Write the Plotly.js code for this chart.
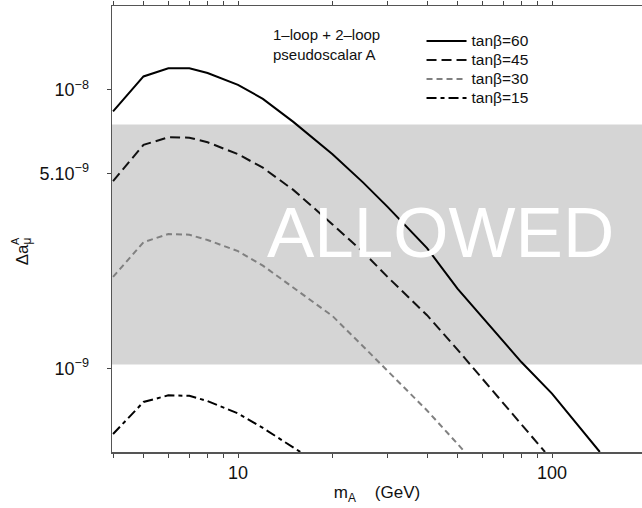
<!DOCTYPE html>
<html>
<head>
<meta charset="utf-8">
<script src="https://cdn.plot.ly/plotly-3.0.1.min.js"></script>
<style>html,body{margin:0;padding:0;background:#fff;}#chart{width:642px;height:508px;}</style>
</head>
<body>
<div id="chart"></div>
<script>
// m_A values (GeV) and Δa_μ^A values
const m60 = [4, 5, 6, 7, 8, 9, 10, 12, 15, 20, 25, 30, 40, 50, 60, 70, 80, 100, 120, 142];
const a60 = [8.36e-9, 1.117e-8, 1.194e-8, 1.194e-8, 1.149e-8, 1.093e-8, 1.042e-8, 9.28e-9, 7.67e-9, 5.87e-9, 4.65e-9, 3.79e-9, 2.70e-9, 1.93e-9, 1.52e-9, 1.24e-9, 1.05e-9, 8.1e-10, 6.3e-10, 5.0e-10];

const m45 = [4, 5, 6, 7, 8, 9, 10, 12, 15, 20, 25, 30, 40, 50, 60, 70, 80, 95];
const a45 = [4.70e-9, 6.34e-9, 6.75e-9, 6.73e-9, 6.48e-9, 6.17e-9, 5.87e-9, 5.25e-9, 4.37e-9, 3.285e-9, 2.617e-9, 2.123e-9, 1.55e-9, 1.166e-9, 9.17e-10, 7.49e-10, 6.28e-10, 5.0e-10];

const m30 = [4, 5, 6, 7, 8, 9, 10, 12, 15, 20, 25, 30, 40, 52.8];
const a30 = [2.127e-9, 2.834e-9, 3.034e-9, 3.016e-9, 2.886e-9, 2.758e-9, 2.633e-9, 2.336e-9, 1.947e-9, 1.539e-9, 1.199e-9, 9.75e-10, 7.05e-10, 5.0e-10];

const m15 = [4, 5, 6, 7, 8, 9, 10, 12, 15, 15.8];
const a15 = [5.80e-10, 7.56e-10, 7.99e-10, 7.96e-10, 7.62e-10, 7.22e-10, 6.88e-10, 6.10e-10, 5.20e-10, 5.0e-10];

const seriesNames = ["tanβ=60", "tanβ=45", "tanβ=30", "tanβ=15"];

// allowed band
const bandLow = 1.03e-9;
const bandHigh = 7.5e-9;

// axis ticks
const xTickVals = [4, 5, 6, 7, 8, 9, 10, 20, 30, 40, 50, 60, 70, 80, 90, 100, 200];
const xTickText = ["", "", "", "", "", "", "10", "", "", "", "", "", "", "", "", "100", ""];
const yTickVals = [1e-9, 5e-9, 1e-8];
const yTickText = ["10<sup>−9</sup>", "5.10<sup>−9</sup>", "10<sup>−8</sup>"];

const FONT = "Liberation Sans, Arial, Helvetica, sans-serif";
const legendName = n => "<span style='font-size:15.5px'>" + n + "</span>";

const traces = [
  {x: m60, y: a60, name: legendName(seriesNames[0]), mode: "lines", line: {color: "#000", width: 2, dash: "solid"}},
  {x: m45, y: a45, name: legendName(seriesNames[1]), mode: "lines", line: {color: "#111", width: 2, dash: "10px,5px"}},
  {x: m30, y: a30, name: legendName(seriesNames[2]), mode: "lines", line: {color: "#808080", width: 2, dash: "6px,4px"}},
  {x: m15, y: a15, name: legendName(seriesNames[3]), mode: "lines", line: {color: "#000", width: 2, dash: "10px,4px,4px,4px"}}
];

const layout = {
  width: 642, height: 508,
  margin: {l: 112, r: 0, t: 6, b: 56},
  paper_bgcolor: "#fff", plot_bgcolor: "#fff",
  font: {family: FONT, color: "#111", size: 16},
  showlegend: true,
  legend: {x: 0.584, y: 0.954, xanchor: "left", yanchor: "top", bgcolor: "rgba(0,0,0,0)",
           itemwidth: 40, font: {family: FONT, size: 12, color: "#111"}, tracegroupgap: 0},
  xaxis: {
    type: "log", range: [0.5987, 2.2866],
    tickmode: "array", tickvals: xTickVals, ticktext: xTickText,
    ticks: "outside", ticklen: 4, tickwidth: 1, tickcolor: "#444",
    showline: true, linecolor: "#555", linewidth: 1.5, mirror: "ticks",
    showgrid: false, zeroline: false,
    tickfont: {family: FONT, size: 18, color: "#111"},
    title: {text: "m<sub>A</sub>    (GeV)", font: {family: FONT, size: 17, color: "#111"}, standoff: 4}
  },
  yaxis: {
    type: "log", range: [Math.log10(5e-10), Math.log10(2e-8)],
    tickmode: "array", tickvals: yTickVals, ticktext: yTickText,
    ticks: "outside", ticklen: 4, tickwidth: 1, tickcolor: "#444",
    ticklabelstandoff: 14,
    showline: true, linecolor: "#555", linewidth: 1.5, mirror: false,
    showgrid: false, zeroline: false,
    tickfont: {family: FONT, size: 18, color: "#111"}
  },
  shapes: [{
    type: "rect", xref: "paper", yref: "y", x0: 0, x1: 1, y0: bandLow, y1: bandHigh,
    fillcolor: "#d5d5d5", line: {width: 0}, layer: "below"
  }],
  annotations: [
    {xref: "paper", yref: "paper", x: 0.619, y: 0.493, text: "ALLOWED", showarrow: false,
     font: {family: FONT, size: 71, color: "#fff"}, xanchor: "center", yanchor: "middle"},
    {xref: "paper", yref: "paper", x: 0.404, y: 0.96, text: "1–loop + 2–loop<br>pseudoscalar A", showarrow: false,
     align: "left", xanchor: "center", yanchor: "top", font: {family: FONT, size: 15, color: "#111"}},
    {xref: "paper", yref: "paper", x: -0.166, y: 0.45, text: "Δa<sub>μ</sub>", textangle: -90, showarrow: false,
     xanchor: "center", yanchor: "middle", font: {family: FONT, size: 17, color: "#111"}},
    {xref: "paper", yref: "paper", x: -0.184, y: 0.474, text: "A", textangle: -90, showarrow: false,
     xanchor: "center", yanchor: "middle", font: {family: FONT, size: 11, color: "#111"}}
  ]
};

Plotly.newPlot("chart", traces, layout, {staticPlot: true, displayModeBar: false});
</script>
</body>
</html>
